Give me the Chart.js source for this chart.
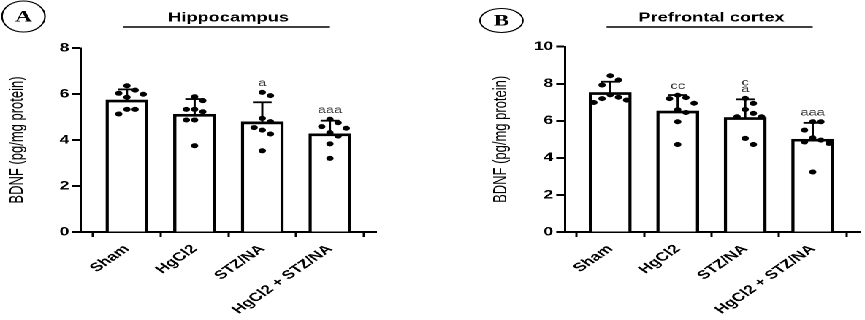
<!DOCTYPE html>
<html><head><meta charset="utf-8">
<script src="https://cdn.jsdelivr.net/npm/chart.js@4/dist/chart.umd.min.js"></script>
<style>
html,body{margin:0;padding:0;background:#fff;overflow:hidden;width:865px;height:320px;}
#wrap{position:absolute;left:0;top:0;width:592px;height:320px;transform:scaleX(1.4611);transform-origin:0 0;}
canvas{position:absolute;top:0;}
#ca{left:0;} #cb{left:296px;}
</style></head><body>
<div id="wrap"><canvas id="ca" width="296" height="320"></canvas><canvas id="cb" width="296" height="320"></canvas></div>
<script>
// ---- data ----
const categories = ["Sham", "HgCl2", "STZ/NA", "HgCl2 + STZ/NA"];
const yAxisTitle = "BDNF (pg/mg protein)";

const hippoTitle = "Hippocampus";
const hippoMeans = [5.74, 5.12, 4.79, 4.27];
const hippoSD = [0.46, 0.66, 0.85, 0.57];
const hippoSham = [6.36, 6.17, 6.03, 5.99, 5.86, 5.33, 5.33, 5.13];
const hippoHg = [5.88, 5.71, 5.33, 5.33, 5.23, 4.87, 4.87, 3.75];
const hippoStz = [6.07, 5.93, 4.94, 4.80, 4.54, 4.43, 4.26, 3.53];
const hippoCombo = [4.90, 4.75, 4.58, 4.51, 4.32, 4.17, 3.83, 3.20];
const hippoSig = ["", "", "a", "aaa"];
const hippoTicks = [0, 2, 4, 6, 8];

const pfcTitle = "Prefrontal cortex";
const pfcMeans = [7.53, 6.53, 6.18, 5.01];
const pfcSD = [0.58, 0.86, 0.98, 0.88];
const pfcSham = [8.43, 8.20, 7.93, 7.40, 7.27, 7.20, 7.12, 6.99];
const pfcHg = [7.38, 7.25, 7.20, 6.95, 6.60, 6.45, 5.95, 4.72];
const pfcStz = [7.21, 6.94, 6.61, 6.40, 6.22, 6.22, 5.05, 4.72];
const pfcCombo = [5.95, 5.95, 5.50, 5.08, 4.96, 4.86, 4.78, 3.24];
const pfcSig = ["", "cc", "c\na", "aaa"];
const pfcTicks = [0, 2, 4, 6, 8, 10];

Chart.defaults.font.family = "'Liberation Sans', Arial, Helvetica, sans-serif";
Chart.defaults.color = "#000";

function makePanel(id, p) {
  const groups = p.points;
  const barData = p.means.map((m, i) => ({x: i, y: m}));
  const dotData = [];
  groups.forEach((arr, g) => arr.forEach(v => dotData.push({x: g, y: v})));

  const decor = {
    id: 'decor_' + id,
    afterDatasetsDraw(chart) {
      const ctx = chart.ctx, xs = chart.scales.x, ys = chart.scales.y;
      ctx.save();
      // error bars (upper)
      ctx.strokeStyle = '#000';
      p.means.forEach((m, i) => {
        const cx = xs.getPixelForValue(i);
        const yb = ys.getPixelForValue(m);
        const yt = ys.getPixelForValue(m + p.sd[i]);
        ctx.lineWidth = 1.5;
        ctx.beginPath(); ctx.moveTo(cx, yb); ctx.lineTo(cx, yt); ctx.stroke();
        ctx.lineWidth = 1.8;
        ctx.beginPath(); ctx.moveTo(cx - 6.4, yt); ctx.lineTo(cx + 6.4, yt); ctx.stroke();
      });
      // significance letters
      ctx.fillStyle = '#333';
      ctx.font = "10px 'Liberation Sans', Arial, sans-serif";
      ctx.textAlign = 'center'; ctx.textBaseline = 'middle';
      p.sig.forEach((s, i) => {
        if (!s) return;
        const top = Math.max(p.means[i] + p.sd[i], ...groups[i]);
        const yTop = ys.getPixelForValue(top) - 9;
        const lines = s.split("\n");
        lines.forEach((t, k) => {
          ctx.fillText(t, xs.getPixelForValue(i), yTop - (lines.length - 1 - k) * 6.5);
        });
      });
      // panel title and underline
      const x0 = xs.getPixelForValue(0), x3 = xs.getPixelForValue(categories.length - 1);
      ctx.fillStyle = '#000';
      ctx.font = "bold 12.5px 'Liberation Sans', Arial, sans-serif";
      ctx.textBaseline = 'alphabetic';
      ctx.fillText(p.title, (x0 + x3) / 2, 21.5);
      ctx.lineWidth = 1.6;
      ctx.beginPath(); ctx.moveTo(x0 - 2.5, 27); ctx.lineTo(x3, 27); ctx.stroke();
      // circled letter
      ctx.lineWidth = 1.1;
      ctx.beginPath(); ctx.ellipse(p.circle[0], p.circle[1], 14.7, p.circle[2], 0, 0, Math.PI * 2); ctx.stroke();
      ctx.font = "bold 16px 'Liberation Serif', 'Times New Roman', serif";
      ctx.textBaseline = 'middle';
      ctx.fillText(p.letter, p.circle[0], p.circle[1] + 1);
      ctx.restore();
    }
  };

  const chart = new Chart(document.getElementById(id), {
    type: 'bar',
    data: {
      datasets: [
        {type: 'scatter', data: dotData, backgroundColor: '#000', borderColor: '#000',
         pointRadius: 2.5, pointBorderWidth: 0, pointHoverRadius: 2.5, order: 1},
        {type: 'bar', data: barData, backgroundColor: '#fff', borderColor: '#000',
         borderWidth: {top: 2.7, left: 2.2, right: 2.2, bottom: 0}, borderSkipped: false,
         barThickness: 28.7, order: 2}
      ]
    },
    options: {
      responsive: false, animation: false, devicePixelRatio: 2,
      events: [],
      layout: {padding: {left: p.padLeft, top: p.padTop, right: p.padRight, bottom: 0}},
      plugins: {legend: {display: false}, tooltip: {enabled: false}, title: {display: false}},
      scales: {
        x: {
          type: 'linear', min: p.xmin, max: p.xmax, offset: false,
          afterBuildTicks: s => { s.ticks = categories.map((c, i) => ({value: i})); },
          afterFit: s => { s.height = 88; },
          ticks: {autoSkip: false, minRotation: 45, maxRotation: 45, padding: 5, color: '#000',
                  font: {size: 12, weight: 'bold'}, callback: v => categories[v]},
          grid: {drawOnChartArea: false, drawTicks: true, tickLength: 5, tickWidth: 1.5, tickColor: '#000'},
          border: {display: true, color: '#000', width: 2}
        },
        y: {
          min: 0, max: p.ymax,
          afterBuildTicks: s => { s.ticks = p.ticks.map(v => ({value: v})); },
          afterFit: s => { s.width = 55.4; },
          ticks: {color: '#000', padding: 2, font: {size: 12, weight: 'bold'}},
          grid: {drawOnChartArea: false, drawTicks: true, tickLength: 6, tickWidth: 2, tickColor: '#000'},
          border: {display: true, color: '#000', width: 1.5},
          title: {display: true, text: yAxisTitle, color: '#000', font: {size: 13, weight: 'normal'},
                  padding: {top: 4, bottom: 0}}
        }
      }
    },
    plugins: [decor]
  });

  // spread dots horizontally (beeswarm) using the chart's own scales
  const xs = chart.scales.x, ys = chart.scales.y;
  const unit = xs.getPixelForValue(1) - xs.getPixelForValue(0);
  const STEP = 5.6, DY = 10;
  const out = [];
  groups.forEach((arr, g) => {
    const placed = [];
    arr.slice().sort((a, b) => b - a).forEach(v => {
      const py = ys.getPixelForValue(v);
      let off = 0;
      for (let k = 0; k < 30; k++) {
        const c = k === 0 ? 0 : (k % 2 ? 1 : -1) * Math.ceil(k / 2) * STEP;
        if (placed.every(q => Math.abs(q.x - c) >= STEP - 0.01 || Math.abs(q.y - py) >= DY)) { off = c; break; }
      }
      placed.push({x: off, y: py});
      out.push({x: g + off / unit, y: v});
    });
  });
  chart.data.datasets[0].data = out;
  chart.update('none');
  return chart;
}

makePanel('ca', {
  title: hippoTitle, letter: 'A', circle: [16.1, 16.5, 15.5],
  means: hippoMeans, sd: hippoSD, points: [hippoSham, hippoHg, hippoStz, hippoCombo], sig: hippoSig,
  ticks: hippoTicks, ymax: 8, xmin: -0.68, xmax: 3.68, padLeft: 0, padTop: 48, padRight: 38.7
});
makePanel('cb', {
  title: pfcTitle, letter: 'B', circle: [47.2, 20.5, 12],
  means: pfcMeans, sd: pfcSD, points: [pfcSham, pfcHg, pfcStz, pfcCombo], sig: pfcSig,
  ticks: pfcTicks, ymax: 10, xmin: -0.67, xmax: 3.7, padLeft: 35.3, padTop: 46.7, padRight: 3.4
});
</script>
</body></html>
